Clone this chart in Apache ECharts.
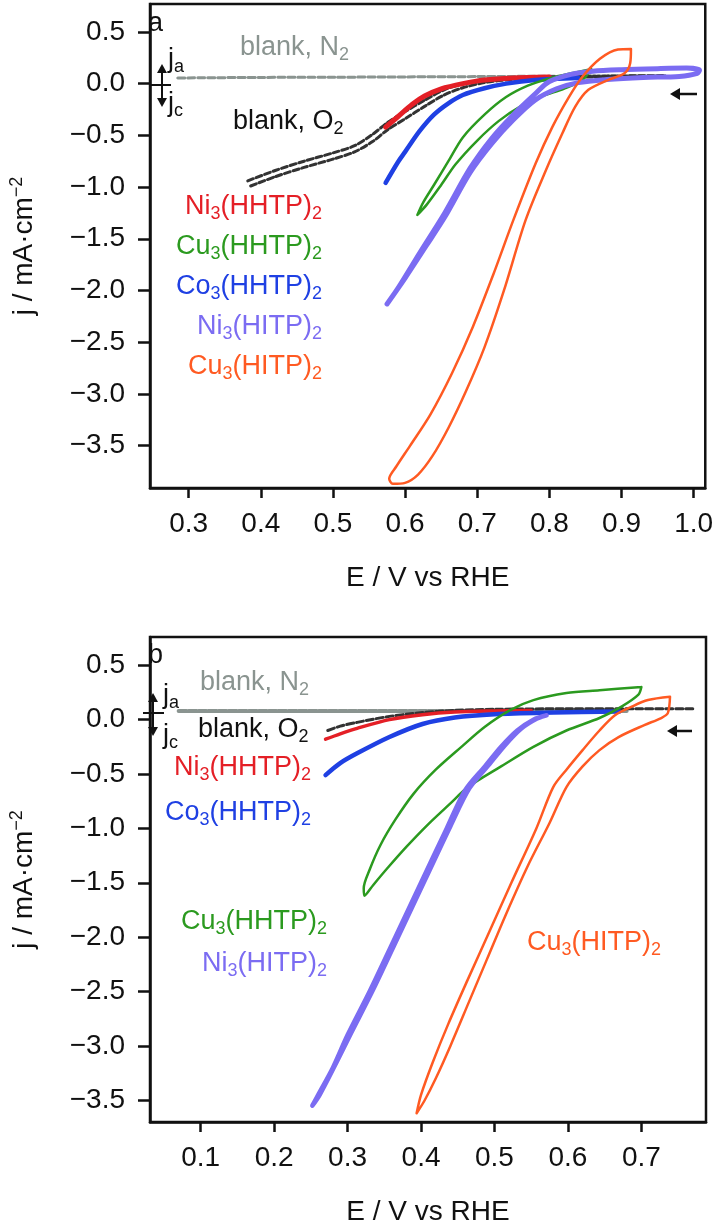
<!DOCTYPE html>
<html><head><meta charset="utf-8">
<script src="https://cdn.jsdelivr.net/npm/echarts@6/dist/echarts.min.js"></script>
<style>html,body{margin:0;padding:0;background:#fff}#c{width:716px;height:1227px}</style>
</head><body><div id="c"></div>
<script>
// ---------- tick values ----------
const xTicksA = [0.3, 0.4, 0.5, 0.6, 0.7, 0.8, 0.9, 1.0];
const yTicksA = [0.5, 0.0, -0.5, -1.0, -1.5, -2.0, -2.5, -3.0, -3.5];
const xTicksB = [0.1, 0.2, 0.3, 0.4, 0.5, 0.6, 0.7];
const yTicksB = [0.5, 0.0, -0.5, -1.0, -1.5, -2.0, -2.5, -3.0, -3.5];

// ---------- panel a curves [E (V vs RHE), j (mA cm-2)] ----------
const blankN2A = [[0.285,0.055],[0.40,0.06],[0.50,0.062],[0.60,0.065],[0.70,0.068],[0.80,0.072],[0.90,0.075],[0.96,0.078]];
const blankO2A1 = [[0.382,-0.94],[0.42,-0.84],[0.46,-0.75],[0.50,-0.67],[0.53,-0.60],[0.555,-0.49],[0.575,-0.38],[0.60,-0.27],[0.627,-0.16],[0.654,-0.06],[0.68,0.0],[0.71,0.035],[0.75,0.055],[0.82,0.068],[0.96,0.078]];
const blankO2A2 = [[0.386,-0.99],[0.42,-0.90],[0.46,-0.81],[0.50,-0.73],[0.53,-0.66],[0.555,-0.56],[0.575,-0.45],[0.60,-0.34],[0.627,-0.22],[0.654,-0.11],[0.68,-0.04],[0.71,0.01],[0.75,0.042],[0.82,0.06],[0.96,0.07]];
const ni3hhtpA = [[0.573,-0.42],[0.59,-0.32],[0.61,-0.20],[0.627,-0.12],[0.65,-0.05],[0.68,0.0],[0.71,0.035],[0.75,0.055],[0.80,0.065]];
const co3hhtpA = [[0.573,-0.96],[0.59,-0.76],[0.60,-0.66],[0.62,-0.46],[0.64,-0.30],[0.66,-0.19],[0.68,-0.11],[0.71,-0.045],[0.74,0.0],[0.78,0.035],[0.84,0.055]];
const cu3hhtpA = [[0.858,0.14],[0.83,0.10],[0.80,0.05],[0.77,-0.02],[0.74,-0.13],[0.71,-0.30],[0.68,-0.52],[0.66,-0.75],[0.64,-0.98],[0.625,-1.15],[0.617,-1.27],
                  [0.63,-1.17],[0.65,-0.98],[0.67,-0.78],[0.70,-0.55],[0.73,-0.36],[0.76,-0.22],[0.79,-0.12],[0.82,-0.05],[0.845,0.03],[0.858,0.14]];
const ni3hitpA = [[0.575,-2.13],[0.60,-1.88],[0.63,-1.56],[0.655,-1.29],[0.69,-0.86],[0.72,-0.58],[0.75,-0.35],[0.78,-0.16],[0.81,-0.05],[0.84,0.01],[0.88,0.04],[0.93,0.06],[0.98,0.07],[1.005,0.10],[1.008,0.13],
                  [0.99,0.15],[0.95,0.145],[0.90,0.135],[0.86,0.12],[0.83,0.09],[0.80,0.02],[0.78,-0.10],[0.75,-0.30],[0.72,-0.53],[0.69,-0.82],[0.655,-1.25],[0.62,-1.64],[0.59,-1.98],[0.575,-2.13]];
const cu3hitpA = [[0.913,0.335],[0.895,0.33],[0.87,0.24],[0.845,0.06],[0.827,-0.13],[0.804,-0.42],[0.781,-0.77],[0.75,-1.32],[0.722,-1.85],[0.694,-2.35],[0.665,-2.8],[0.635,-3.2],[0.607,-3.5],[0.588,-3.7],[0.578,-3.82],[0.583,-3.87],[0.60,-3.86],
                  [0.618,-3.78],[0.638,-3.6],[0.66,-3.33],[0.684,-2.98],[0.71,-2.55],[0.737,-2.0],[0.767,-1.32],[0.795,-0.84],[0.818,-0.48],[0.836,-0.22],[0.854,-0.06],[0.881,0.035],[0.904,0.10],[0.912,0.2],[0.913,0.335]];

// ---------- panel b curves ----------
const blankN2B = [[0.07,0.08],[0.2,0.08],[0.3,0.08],[0.4,0.08],[0.5,0.08],[0.6,0.08],[0.68,0.08]];
const blankO2B = [[0.273,-0.10],[0.29,-0.06],[0.313,-0.025],[0.357,0.03],[0.402,0.065],[0.446,0.085],[0.50,0.095],[0.60,0.10],[0.70,0.10],[0.77,0.10]];
const ni3hhtpB = [[0.27,-0.18],[0.29,-0.13],[0.313,-0.08],[0.357,0.0],[0.402,0.045],[0.446,0.07],[0.50,0.08],[0.55,0.085]];
const co3hhtpB = [[0.27,-0.51],[0.29,-0.40],[0.313,-0.31],[0.357,-0.16],[0.402,-0.04],[0.446,0.02],[0.50,0.05],[0.58,0.065],[0.67,0.075]];
const cu3hhtpB = [[0.70,0.30],[0.643,0.27],[0.598,0.245],[0.553,0.18],[0.522,0.09],[0.487,-0.065],[0.455,-0.25],[0.42,-0.46],[0.39,-0.68],[0.365,-0.92],[0.345,-1.15],[0.33,-1.38],[0.322,-1.55],[0.323,-1.62],
                  [0.335,-1.52],[0.355,-1.36],[0.38,-1.17],[0.41,-0.96],[0.44,-0.77],[0.464,-0.62],[0.509,-0.43],[0.553,-0.25],[0.598,-0.10],[0.643,0.015],[0.673,0.12],[0.696,0.23],[0.70,0.30]];
const ni3hitpB = [[0.571,0.04],[0.553,0.0],[0.531,-0.10],[0.509,-0.25],[0.487,-0.43],[0.46,-0.65],[0.435,-1.0],[0.40,-1.5],[0.365,-2.0],[0.33,-2.5],[0.30,-2.9],[0.28,-3.2],[0.26,-3.45],[0.252,-3.55],
                  [0.262,-3.45],[0.285,-3.15],[0.305,-2.88],[0.335,-2.48],[0.37,-1.98],[0.405,-1.48],[0.44,-0.98],[0.466,-0.63],[0.493,-0.41],[0.515,-0.23],[0.537,-0.08],[0.558,0.01],[0.571,0.04]];
const cu3hitpB = [[0.739,0.21],[0.709,0.18],[0.687,0.12],[0.664,0.04],[0.643,-0.10],[0.62,-0.28],[0.598,-0.46],[0.58,-0.62],[0.557,-1.0],[0.523,-1.5],[0.493,-1.95],[0.463,-2.4],[0.437,-2.8],[0.416,-3.15],[0.40,-3.45],[0.394,-3.62],
                  [0.405,-3.5],[0.42,-3.3],[0.44,-3.0],[0.465,-2.6],[0.49,-2.2],[0.515,-1.8],[0.545,-1.35],[0.575,-0.95],[0.598,-0.62],[0.62,-0.43],[0.643,-0.28],[0.669,-0.16],[0.704,-0.05],[0.727,0.015],[0.736,0.06],[0.739,0.21]];

// ---------- styling ----------
const FF = 'Liberation Sans, Arial, Helvetica, sans-serif';
const C = {red:'#e41f26', green:'#2b9a1f', blue:'#1f40e3', purple:'#7b6cf2', orange:'#ff5a22', gray:'#8a9490', dark:'#333333', black:'#111111'};
const FS = 28;

function fmt(v){ return (v < -1e-9 ? '\u2212' : '') + Math.abs(v).toFixed(1); }

function xAx(gi, min, max, ticks){
  return {type:'value', gridIndex:gi, min:min, max:max,
    axisLine:{show:true, onZero:false, lineStyle:{color:C.black, width:2.5}},
    axisTick:{show:true, inside:false, length:10, customValues:ticks, lineStyle:{color:C.black, width:2.5}},
    axisLabel:{customValues:ticks, formatter:fmt, fontSize:FS, fontFamily:FF, color:C.black, margin:22},
    splitLine:{show:false},
    name:'E / V vs RHE', nameLocation:'middle', nameGap:76,
    nameTextStyle:{fontSize:FS, fontFamily:FF, color:C.black}};
}
function yAx(gi, min, max, ticks){
  return {type:'value', gridIndex:gi, min:min, max:max,
    axisLine:{show:true, onZero:false, lineStyle:{color:C.black, width:2.5}},
    axisTick:{show:true, inside:false, length:12, customValues:ticks, lineStyle:{color:C.black, width:2.5}},
    axisLabel:{customValues:ticks, formatter:fmt, fontSize:FS, fontFamily:FF, color:C.black, margin:25},
    splitLine:{show:false},
    name:'j / mA\u00b7cm{sup|\u22122}', nameLocation:'middle', nameGap:110, nameRotate:90,
    nameTextStyle:{fontSize:FS, fontFamily:FF, color:C.black,
      rich:{sup:{fontSize:18, fontFamily:FF, color:C.black, padding:[0,0,14,0]}}}};
}
function ln(data, color, width, idx, dash){
  return {type:'line', xAxisIndex:idx, yAxisIndex:idx, data:data, showSymbol:false, symbol:'none',
    smooth:0.3, lineStyle:{color:color, width:width, type:dash||'solid', cap:'round', join:'round'},
    emphasis:{disabled:true}, silent:true, animation:false};
}
function txt(x, y, text, color, align){
  return {type:'text', x:x, y:y, z:100, silent:true,
    style:{text:text, fill:color, fontSize:27, fontFamily:FF, align:align||'left', verticalAlign:'middle',
      rich:{s:{fontSize:18, fontFamily:FF, fill:color, padding:[15,0,0,0]}}}};
}
function seg(x1,y1,x2,y2,w){
  return {type:'line', z:100, silent:true, shape:{x1:x1,y1:y1,x2:x2,y2:y2}, style:{stroke:C.black, lineWidth:w||2}};
}
function head(pts){
  return {type:'polygon', z:100, silent:true, shape:{points:pts}, style:{fill:C.black}};
}

const chart = echarts.init(document.getElementById('c'), null, {renderer:'canvas'});
chart.setOption({
  animation:false,
  backgroundColor:'#ffffff',
  grid:[
    {show:true, left:141, top:4, width:565, height:484, borderColor:C.black, borderWidth:2.5},
    {show:true, left:139, top:637, width:567, height:486, borderColor:C.black, borderWidth:2.5}
  ],
  xAxis:[ xAx(0, 0.2465, 1.016, xTicksA), xAx(1, 0.031, 0.788, xTicksB) ],
  yAxis:[ yAx(0, -3.91, 0.77, yTicksA), yAx(1, -3.70, 0.76, yTicksB) ],
  series:[
    ln(blankN2A, C.gray, 3, 0, [7,3]),
    ln(blankO2A1, C.dark, 3, 0, [6,3]),
    ln(blankO2A2, C.dark, 3, 0, [6,3]),
    ln(ni3hhtpA, C.red, 5, 0),
    ln(co3hhtpA, C.blue, 4.5, 0),
    ln(cu3hhtpA, C.green, 2.5, 0),
    ln(ni3hitpA, C.purple, 5, 0),
    ln(cu3hitpA, C.orange, 2.5, 0),
    ln(blankN2B, C.gray, 4, 1, [8,2]),
    ln(blankO2B, C.dark, 3, 1, [7,3]),
    ln(ni3hhtpB, C.red, 3.5, 1),
    ln(co3hhtpB, C.blue, 4.5, 1),
    ln(cu3hhtpB, C.green, 2.5, 1),
    ln(ni3hitpB, C.purple, 4.5, 1),
    ln(cu3hitpB, C.orange, 2.5, 1)
  ],
  graphic:[
    // panel a annotations
    txt(148, 24, 'a', C.black),
    txt(240, 48, 'blank, N{s|2}', C.gray),
    txt(233, 122, 'blank, O{s|2}', C.black),
    txt(168, 60, 'j{s|a}', C.black),
    txt(168, 104, 'j{s|c}', C.black),
    txt(322, 207, 'Ni{s|3}(HHTP){s|2}', C.red, 'right'),
    txt(322, 247, 'Cu{s|3}(HHTP){s|2}', C.green, 'right'),
    txt(322, 287, 'Co{s|3}(HHTP){s|2}', C.blue, 'right'),
    txt(322, 327, 'Ni{s|3}(HITP){s|2}', C.purple, 'right'),
    txt(322, 367, 'Cu{s|3}(HITP){s|2}', C.orange, 'right'),
    seg(162, 70, 162, 101), head([[162,64],[157,73],[167,73]]), head([[162,107],[157,98],[167,98]]),
    seg(151, 85, 171, 85),
    seg(697, 94, 676, 94, 2.5), head([[670,94],[680,88],[680,100]]),
    // panel b annotations
    txt(148, 656, 'b', C.black),
    txt(200, 683, 'blank, N{s|2}', C.gray),
    txt(198, 730, 'blank, O{s|2}', C.black),
    txt(163, 696, 'j{s|a}', C.black),
    txt(163, 736, 'j{s|c}', C.black),
    txt(311, 768, 'Ni{s|3}(HHTP){s|2}', C.red, 'right'),
    txt(311, 813, 'Co{s|3}(HHTP){s|2}', C.blue, 'right'),
    txt(327, 922, 'Cu{s|3}(HHTP){s|2}', C.green, 'right'),
    txt(327, 964, 'Ni{s|3}(HITP){s|2}', C.purple, 'right'),
    txt(527, 943, 'Cu{s|3}(HITP){s|2}', C.orange, 'left'),
    seg(153, 699, 153, 730), head([[153,693],[148,702],[158,702]]), head([[153,736],[148,727],[158,727]]),
    seg(143, 713, 164, 713),
    seg(692, 731, 673, 731, 2.5), head([[667,731],[677,725],[677,737]])
  ]
});
</script>
</body></html>
